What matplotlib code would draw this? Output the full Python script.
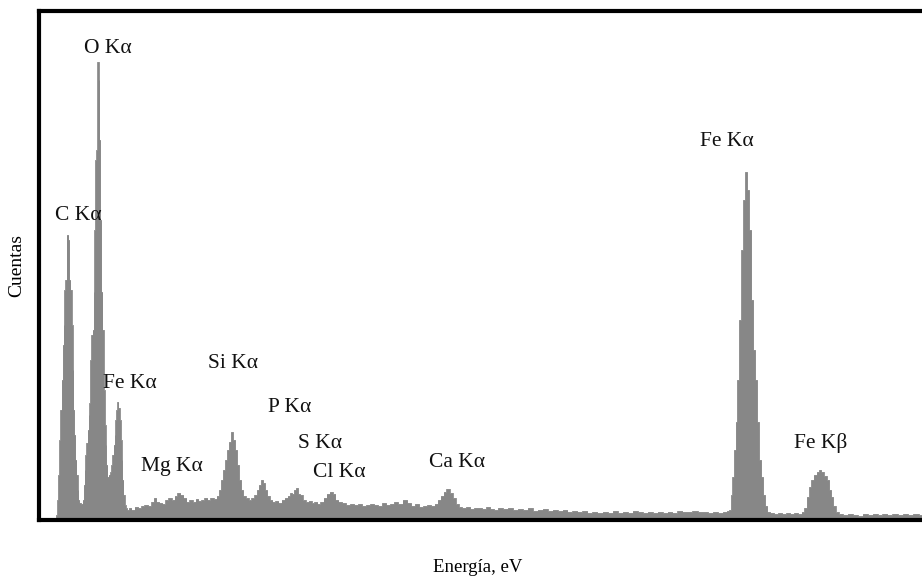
import matplotlib
matplotlib.use("Agg")
import matplotlib.pyplot as plt

# Espectro EDS: energia (eV) y cuentas
energia = [
    140, 160, 165, 175, 185, 195, 205, 215, 220, 230, 240, 250, 260, 265, 275, 285, 295, 305,
    310, 320, 330, 340, 350, 355, 365, 385, 395, 405, 410, 420, 430, 440, 450, 455, 465, 475,
    485, 495, 500, 510, 520, 530, 540, 545, 555, 565, 575, 585, 595, 600, 610, 620, 630, 640,
    645, 655, 665, 675, 685, 690, 700, 710, 720, 730, 740, 745, 755, 765, 775, 785, 800, 820,
    845, 875, 910, 935, 965, 1000, 1025, 1045, 1070, 1100, 1125, 1155, 1180, 1210, 1235, 1260,
    1290, 1315, 1345, 1370, 1400, 1425, 1450, 1480, 1505, 1535, 1560, 1590, 1615, 1635, 1650,
    1670, 1690, 1705, 1725, 1740, 1760, 1780, 1795, 1815, 1835, 1850, 1880, 1905, 1930, 1960,
    1975, 1995, 2015, 2030, 2050, 2070, 2095, 2120, 2150, 2175, 2205, 2230, 2260, 2275, 2295,
    2310, 2330, 2350, 2365, 2395, 2420, 2450, 2475, 2500, 2530, 2555, 2585, 2610, 2640, 2665,
    2690, 2720, 2755, 2790, 2830, 2865, 2900, 2935, 2975, 3010, 3045, 3080, 3120, 3155, 3190,
    3225, 3260, 3310, 3345, 3380, 3415, 3455, 3490, 3525, 3560, 3590, 3615, 3645, 3670, 3695,
    3725, 3750, 3780, 3805, 3840, 3880, 3915, 3950, 3985, 4025, 4060, 4095, 4130, 4165, 4215,
    4260, 4305, 4350, 4395, 4440, 4485, 4530, 4575, 4620, 4665, 4710, 4755, 4800, 4845, 4890,
    4935, 4980, 5025, 5070, 5120, 5165, 5210, 5255, 5300, 5345, 5390, 5435, 5480, 5525, 5570,
    5615, 5660, 5705, 5750, 5795, 5840, 5885, 5930, 5980, 6025, 6070, 6115, 6160, 6205, 6230,
    6250, 6265, 6275, 6295, 6305, 6320, 6340, 6360, 6375, 6395, 6410, 6430, 6450, 6465, 6485,
    6500, 6520, 6540, 6555, 6575, 6595, 6630, 6665, 6700, 6740, 6775, 6810, 6845, 6880, 6910,
    6930, 6955, 6975, 6990, 7020, 7045, 7065, 7080, 7110, 7135, 7155, 7170, 7190, 7215, 7245,
    7290, 7335, 7380, 7425, 7470, 7515, 7560, 7605, 7650, 7695, 7740, 7790, 7835, 7880, 7925,
    7985,
]
cuentas = [
    0, 5, 20, 45, 80, 110, 140, 175, 195, 230, 240, 285, 285, 280, 240, 230, 195, 150,
    110, 85, 60, 45, 30, 20, 17, 16, 20, 35, 50, 65, 77, 90, 105, 117, 160, 185,
    190, 228, 290, 360, 370, 458, 440, 380, 300, 228, 190, 130, 95, 75, 55, 43, 45, 42,
    48, 55, 65, 75, 85, 100, 110, 118, 112, 100, 80, 60, 40, 25, 15, 12, 10, 12,
    10, 13, 12, 14, 15, 14, 18, 22, 18, 17, 16, 20, 22, 20, 24, 27,
    25, 22, 18, 20, 18, 21, 19, 20, 22, 20, 22, 21, 24, 30, 40,
    50, 60, 70, 78, 88, 80, 70, 55, 40, 30, 24, 22, 20, 22, 25,
    30, 35, 40, 37, 30, 24, 20, 18, 19, 17, 20, 22, 24, 27, 26,
    30, 32, 26, 25, 20, 18, 19, 17, 18, 16, 18, 22, 26, 28, 26,
    20, 18, 17, 15, 16, 15, 16, 14, 15, 16, 15, 14, 17, 15, 16,
    18, 16, 20, 17, 14, 16, 13, 14, 15, 14, 16, 20, 24, 28, 31,
    27, 22, 16, 13, 12, 13, 11, 12, 12, 11, 13, 11, 10, 12, 11,
    12, 10, 11, 10, 12, 9, 10, 11, 9, 10, 9, 10, 8, 9, 8,
    9, 7, 8, 7, 8, 7, 9, 7, 8, 7, 9, 8, 7, 8, 7,
    8, 7, 8, 7, 9, 8, 8, 9, 8, 8, 7, 8, 7, 8, 9,
    10, 25, 43, 70, 98, 140, 200, 270, 320, 348, 330, 290, 220, 170, 140,
    98, 60, 43, 25, 14, 8, 7, 6, 7, 6, 7, 6, 7, 6, 8,
    12, 23, 33, 40, 45, 48, 50, 48, 44, 40, 30, 23, 14, 8, 6,
    5, 6, 5, 4, 6, 5, 6, 5, 6, 5, 6, 5, 6, 5, 6,
    5,
]

# Etiquetas de los picos
etiquetas = ["O K\u03b1", "C K\u03b1", "Fe K\u03b1", "Mg K\u03b1", "Si K\u03b1", "P K\u03b1",
             "S K\u03b1", "Cl K\u03b1", "Ca K\u03b1", "Fe K\u03b1", "Fe K\u03b2"]
pos_etiquetas = [(620, 472), (348, 305), (819, 137), (1200, 53), (1750, 157), (2265, 113),
                 (2540, 77), (2710, 47), (3780, 57), (6220, 379), (7065, 77)]

plt.rcParams["font.family"] = ["Liberation Serif", "DejaVu Serif"]

fig = plt.figure(figsize=(9.22, 5.81), dpi=100)
ax = fig.add_axes([0.0428, 0.105, 0.959, 0.876])

color = "#878787"
ax.fill_between(energia, cuentas, 0, step="mid", color=color, linewidth=0)
ax.plot(energia, cuentas, drawstyle="steps-mid", color=color, linewidth=0.6)

for txt, (x, y) in zip(etiquetas, pos_etiquetas):
    ax.text(x, y, txt, ha="center", va="center", fontsize=15.5, color="#111111")

ax.set_xlim(0, 8000)
ax.set_ylim(0, 509)
ax.set_xticks([])
ax.set_yticks([])
for lado in ["left", "bottom", "top"]:
    ax.spines[lado].set_linewidth(3)
    ax.spines[lado].set_color("black")
ax.spines["right"].set_visible(False)

ax.set_ylabel("Cuentas", fontsize=14)
ax.yaxis.set_label_coords(-0.016, 0.5)
ax.set_xlabel("Energ\u00eda, eV", fontsize=13.5)
ax.xaxis.set_label_coords(0.496, -0.077)

fig.savefig("out.png", dpi=100)
